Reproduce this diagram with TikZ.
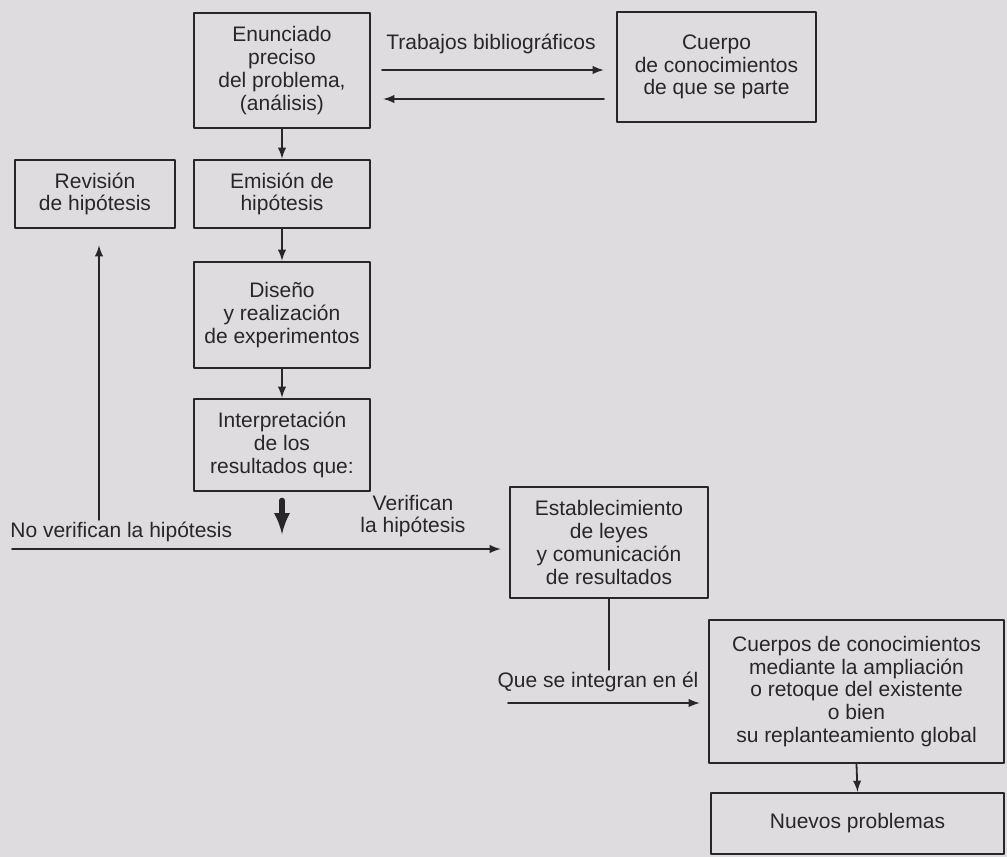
\documentclass[tikz,border=0pt]{standalone}
\usepackage{fontspec}
\setmainfont{Liberation Sans}
\definecolor{papel}{RGB}{222,220,222}
\definecolor{tinta}{RGB}{40,38,40}
\begin{document}
\begin{tikzpicture}[x=0.5pt,y=-0.5pt,line cap=round,line join=round,>=latex,
  caja/.style={draw=tinta,line width=1.3pt,align=center,inner sep=2pt,text=tinta,
    font=\fontsize{10.5}{11.4}\selectfont},
  flecha/.style={draw=tinta,line width=0.9pt,-latex},
  rotulo/.style={inner sep=1pt,text=tinta,align=center,font=\fontsize{10.5}{11.4}\selectfont}]
  \fill[papel] (0,0) rectangle (1007,857);
  \useasboundingbox (0,0) rectangle (1007,857);
  % cajas
  \node[caja,minimum width=88pt,minimum height=57.5pt] (enun) at (282,70.5)
    {Enunciado\\preciso\\del problema,\\(análisis)};
  \node[caja,minimum width=99.5pt,minimum height=55pt] (cuerpo) at (716.5,67)
    {Cuerpo\\de conocimientos\\de que se parte};
  \node[caja,minimum width=80pt,minimum height=34pt] (revision) at (95,194)
    {Revisión\\de hipótesis};
  \node[caja,minimum width=88pt,minimum height=34pt] (emision) at (282,194)
    {Emisión de\\hipótesis};
  \node[caja,minimum width=88pt,minimum height=53pt] (diseno) at (282,315)
    {Diseño\\y realización\\de experimentos};
  \node[caja,minimum width=88pt,minimum height=46pt] (interp) at (282,445)
    {Interpretación\\de los\\resultados que:};
  \node[caja,minimum width=99pt,minimum height=55.5pt] (establ) at (609,542.5)
    {Establecimiento\\de leyes\\y comunicación\\de resultados};
  \node[caja,minimum width=147.5pt,minimum height=71.5pt] (cuerpos) at (856.5,691.5)
    {Cuerpos de conocimientos\\mediante la ampliación\\o retoque del existente\\o bien\\su replanteamiento global};
  \node[caja,minimum width=146.5pt,minimum height=30.5pt] (nuevos) at (857.5,823.5)
    {Nuevos problemas};
  % rotulos
  \node[rotulo] (trab) at (491,44) {Trabajos bibliográficos};
  \node[rotulo,anchor=west] (nover) at (8,532) {No verifican la hipótesis};
  \node[rotulo] (verif) at (413,516) {Verifican\\la hipótesis};
  \node[rotulo] (integ) at (598,682) {Que se integran en él};
  % conectores
  \coordinate (ida) at (382,70);
  \coordinate (vuelta) at (604,99);
  \coordinate (inicio) at (12,549);
  \coordinate (subida) at (99,520);
  \coordinate (entra) at (508,703);
  \draw[flecha] (ida) -- ([xshift=-6pt]ida -| cuerpo.west);
  \draw[flecha] (vuelta) -- ([xshift=6pt]vuelta -| enun.east);
  \draw[flecha] (enun.south) -- (emision.north);
  \draw[flecha] (emision.south) -- (diseno.north);
  \draw[flecha] (diseno.south) -- (interp.north);
  \draw[draw=tinta,line width=2.6pt,-latex,shorten <=4pt] (interp.south) -- ++(0,42);
  \draw[flecha] (inicio) -- ([xshift=-4pt]inicio -| establ.west);
  \draw[flecha] (subida) -- ([yshift=-8pt]subida |- revision.south);
  \draw[draw=tinta,line width=1.1pt] (establ.south) -- (establ.south |- integ.north);
  \draw[flecha] (entra) -- ([xshift=-4pt]entra -| cuerpos.west);
  \draw[flecha] (cuerpos.south) -- (nuevos.north);
\end{tikzpicture}
\end{document}
